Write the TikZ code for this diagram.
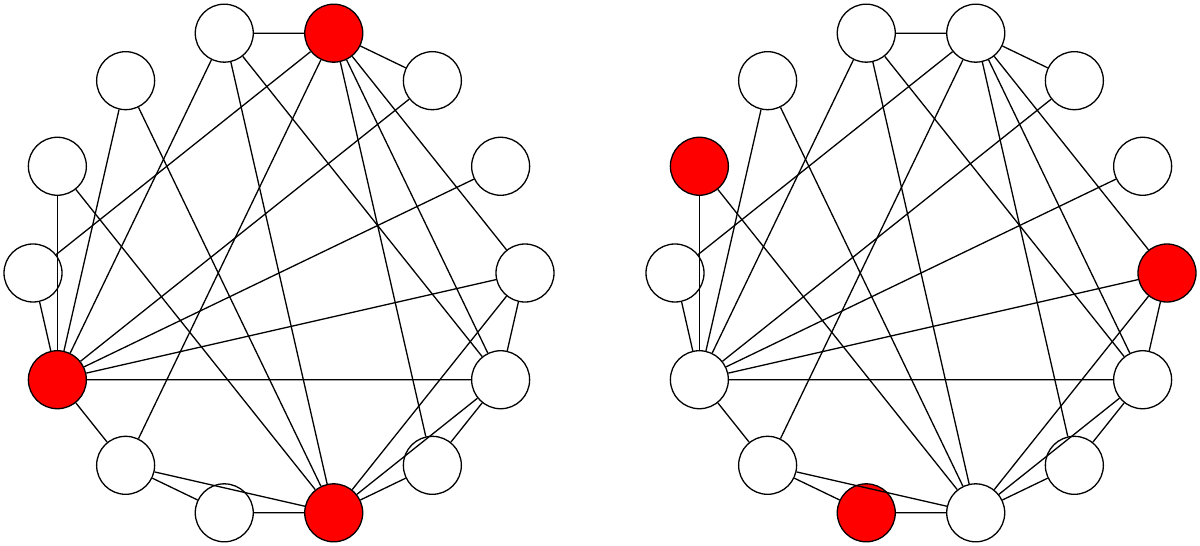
\documentclass[tikz,border=0pt]{standalone}
\begin{document}
\begin{tikzpicture}[x=1pt,y=1pt,
  vert/.style={circle,draw=black,line width=1.3pt,minimum size=58pt,inner sep=0pt,fill=white},
  hit/.style={vert,fill=red},
  link/.style={draw=black,line width=1.3pt}]
\useasboundingbox (0,0) rectangle (1200,546);
% left graph
\foreach \k/\s in {0/vert,1/vert,2/vert,3/vert,4/hit,5/vert,6/vert,7/hit,8/vert,9/vert,10/vert,11/vert,12/vert,13/hit}
  \node[\s] (L\k) at ([shift={(279,273)}]{102.857+\k*25.714}:246) {};
% right graph
\foreach \k/\s in {0/vert,1/vert,2/hit,3/vert,4/vert,5/vert,6/hit,7/vert,8/vert,9/vert,10/hit,11/vert,12/vert,13/vert}
  \node[\s] (R\k) at ([shift={(921,273)}]{102.857+\k*25.714}:246) {};
% edges
\foreach \a/\b in {0/13,0/4,0/7,0/9,1/4,1/7,2/4,2/7,3/4,3/13,4/5,4/9,4/10,4/11,4/12,5/6,5/7,5/13,6/7,7/8,7/9,7/10,8/9,8/13,9/10,9/13,10/13,12/13} {
  \draw[link] (L\a) -- (L\b);
  \draw[link] (R\a) -- (R\b);
}
\end{tikzpicture}
\end{document}
